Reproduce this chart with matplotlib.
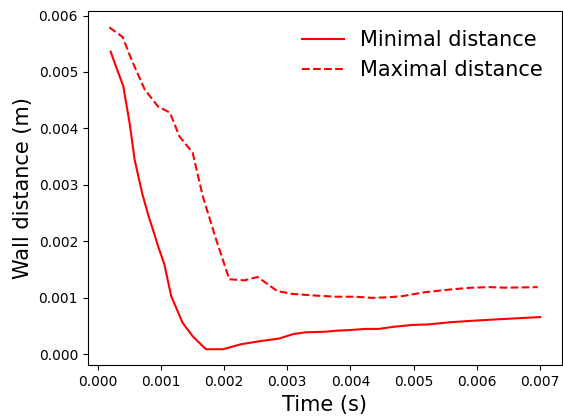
import matplotlib
matplotlib.use("Agg")
import matplotlib.pyplot as plt

# Minimal wall distance (solid)
t_min = [0.00020, 0.00030, 0.00040, 0.00050, 0.00058, 0.00070, 0.00080, 0.00087,
         0.00095, 0.00105, 0.00116, 0.00134, 0.00150, 0.00171, 0.00198, 0.00227,
         0.00255, 0.00287, 0.00310, 0.00329, 0.00360, 0.00380, 0.00400, 0.00423,
         0.00445, 0.00470, 0.00480, 0.00497, 0.00524, 0.00560, 0.00602, 0.00650,
         0.00701]
d_min = [0.00536, 0.00505, 0.00475, 0.00410, 0.00345, 0.00285, 0.00245, 0.00221,
         0.00192, 0.00160, 0.00103, 0.00056, 0.00032, 0.00009, 0.00009, 0.00018,
         0.00023, 0.00028, 0.00036, 0.00039, 0.00040, 0.00042, 0.00043, 0.00045,
         0.00045, 0.00049, 0.00050, 0.00052, 0.00053, 0.00057, 0.00060, 0.00063,
         0.00066]

# Maximal wall distance (dashed)
t_max = [0.00018, 0.00039, 0.00053, 0.00074, 0.00095, 0.00114, 0.00129, 0.00150,
         0.00166, 0.00187, 0.00208, 0.00232, 0.00253, 0.00284, 0.00308, 0.00345,
         0.00377, 0.00408, 0.00434, 0.00460, 0.00482, 0.00518, 0.00560, 0.00592,
         0.00620, 0.00645, 0.00697]
d_max = [0.00579, 0.00562, 0.00522, 0.00469, 0.00439, 0.00428, 0.00386, 0.00357,
         0.00280, 0.00204, 0.00133, 0.00131, 0.00137, 0.00112, 0.00107, 0.00104,
         0.00102, 0.00102, 0.00100, 0.00101, 0.00103, 0.00110, 0.00115, 0.00118,
         0.00119, 0.00118, 0.00119]

fig, ax = plt.subplots(figsize=(5.63, 4.18), dpi=100)
fig.subplots_adjust(left=0.156, right=0.998, top=0.973, bottom=0.126)

ax.plot(t_min, d_min, "-", color="red", label="Minimal distance")
ax.plot(t_max, d_max, "--", color="red", label="Maximal distance")

ax.set_xlabel("Time (s)", fontsize=15)
ax.set_ylabel("Wall distance (m)", fontsize=15)
ax.legend(loc="upper right", frameon=False, fontsize=15)

fig.savefig("out.png", dpi=100)
